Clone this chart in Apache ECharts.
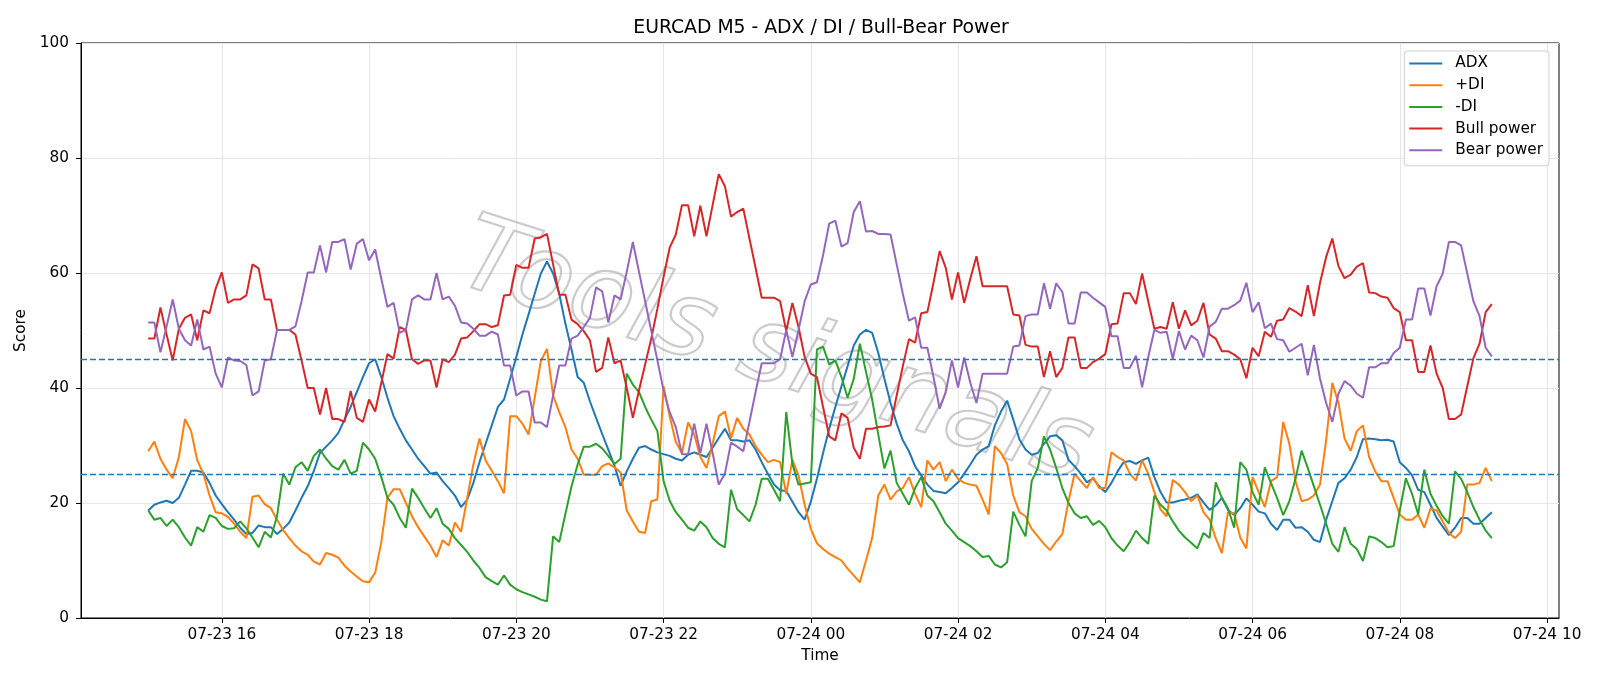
<!DOCTYPE html>
<html>
<head>
<meta charset="utf-8">
<script src="https://cdn.jsdelivr.net/npm/echarts@6/dist/echarts.min.js"></script>
<style>
  html, body { margin: 0; padding: 0; background: #fff; }
  #chart { width: 1600px; height: 686px; }
</style>
</head>
<body>
<div id="chart"></div>
<script>
// 5-minute bars, first bar at 07-23 15:00 (hours counted from 07-23 00:00)
var startHour = 15;
var stepHour = 5 / 60;

var adx = [18.7,19.7,20.1,20.4,20.0,20.9,23.2,25.6,25.6,25.3,23.5,21.3,19.8,18.4,17.1,15.7,14.6,14.8,16.1,15.8,15.8,14.6,15.5,16.6,18.7,20.9,22.9,25.6,28.7,29.8,30.9,32.2,34.5,36.7,39.3,41.9,44.3,
  45.0,41.9,38.3,35.1,32.9,30.9,29.3,27.7,26.4,25.1,25.3,23.8,22.6,21.3,19.3,20.6,23.5,27.1,30.3,33.5,36.7,38.0,41.6,45.4,49.3,52.8,56.4,59.9,62.0,59.9,56.4,51.2,46.7,41.9,
  40.9,37.7,34.8,32.0,29.3,26.5,23.0,25.5,27.7,29.6,29.9,29.3,28.8,28.5,28.2,27.7,27.4,28.4,28.8,28.4,28.0,29.6,31.3,32.9,30.9,30.9,30.7,30.9,29.3,27.1,25.1,23.2,22.2,22.1,20.2,18.4,17.1,20.2,
  24.2,28.7,32.9,36.7,40.3,43.8,47.4,49.3,50.1,49.6,46.1,41.6,37.4,33.8,30.9,29.0,26.4,24.8,23.2,22.1,21.9,21.7,22.6,23.6,25.1,26.7,28.4,29.3,29.9,33.5,35.9,37.8,34.5,31.1,29.3,
  28.4,28.7,30.3,31.6,31.8,30.9,27.5,26.4,25.1,23.6,24.3,22.9,21.9,23.5,25.5,27.1,27.3,26.8,27.4,27.9,24.5,21.9,20.1,20.1,20.4,20.6,20.9,21.5,20.1,18.8,19.6,20.9,18.8,17.9,19.1,20.8,
  19.7,18.5,18.2,16.4,15.3,17.1,17.1,15.7,15.8,15.0,13.6,13.2,17.1,20.3,23.5,24.3,25.8,28.0,31.1,31.2,31.1,30.9,31.0,30.7,27.1,26.1,24.8,22.3,21.9,19.7,17.4,15.9,14.4,15.7,17.4,17.4,16.4,16.4,17.4,18.4];

var plusDi = [29.0,30.7,27.7,25.8,24.3,28.0,34.6,32.5,27.4,25.1,21.3,18.4,18.2,17.6,16.4,15.0,13.9,21.1,21.3,19.8,19.1,17.1,15.3,13.9,12.6,11.6,11.0,9.8,9.3,11.3,11.0,10.5,9.1,8.1,7.2,6.4,6.2,
  7.9,13.2,20.9,22.4,22.4,20.0,17.7,15.8,14.2,12.6,10.6,13.5,12.6,16.6,15.0,20.9,26.7,31.2,27.4,25.6,23.8,21.7,35.1,35.1,33.8,31.9,38.3,44.7,46.8,38.7,35.8,33.2,29.3,27.7,
  24.9,24.9,24.9,26.4,26.9,26.2,25.3,18.7,16.8,15.0,14.8,20.3,20.6,40.3,35.1,30.6,28.7,34.0,31.9,28.0,26.1,30.3,35.1,35.9,31.3,34.8,32.9,31.9,29.9,28.4,27.1,27.5,27.1,21.6,27.5,24.8,19.7,15.5,
  13.0,12.0,11.2,10.6,10.0,8.6,7.4,6.2,10.0,13.9,21.3,23.2,20.6,22.0,22.6,24.5,21.6,19.3,27.4,25.8,27.1,23.8,25.8,24.2,23.5,23.2,23.0,20.6,18.0,29.9,28.7,26.8,21.3,18.4,17.7,
  15.5,14.2,12.9,11.8,13.3,14.6,20.3,25.1,23.8,22.6,24.5,22.6,22.6,28.8,28.0,27.4,25.1,23.9,27.4,25.1,21.9,18.9,17.7,24.0,23.2,21.9,20.3,21.3,18.4,17.1,13.9,11.3,18.4,18.2,14.0,12.1,
  24.5,21.9,19.3,23.8,24.5,34.1,30.3,23.8,20.3,20.6,21.3,23.2,30.9,40.9,37.4,31.2,29.1,32.5,33.5,28.0,25.5,23.8,23.8,20.9,18.0,17.1,17.1,18.0,15.7,19.0,18.7,16.8,14.8,13.9,15.0,23.2,23.2,23.5,26.1,23.8];

var minusDi = [18.7,17.1,17.4,16.0,17.1,15.8,14.0,12.6,15.8,15.0,17.9,17.4,16.0,15.5,15.6,16.8,15.6,14.0,12.3,15.0,14.0,17.7,25.1,23.2,26.2,27.1,25.6,28.2,29.3,27.7,26.4,25.8,27.5,25.1,25.6,30.5,29.3,
  27.7,24.5,20.9,19.7,17.4,15.7,22.5,20.9,19.1,17.4,19.1,16.4,15.5,13.9,12.7,11.5,10.0,8.7,7.1,6.4,5.8,7.4,5.8,5.0,4.5,4.1,3.7,3.2,2.9,14.2,13.2,18.1,22.9,26.7,
  29.8,29.8,30.3,29.5,28.2,26.8,27.7,42.5,40.6,39.3,36.7,34.5,32.5,23.8,20.4,18.4,17.1,15.7,15.2,16.8,15.8,13.9,12.9,12.3,22.3,18.9,17.9,16.8,19.7,24.2,24.2,22.3,20.3,35.8,26.8,23.2,23.4,23.6,
  46.7,47.2,44.1,44.8,41.9,38.3,41.6,47.7,42.8,38.0,31.9,26.0,29.1,23.5,21.6,19.7,22.6,24.5,21.3,20.3,18.4,16.4,15.2,13.9,13.2,12.5,11.6,10.6,10.8,9.3,8.8,9.7,18.5,16.2,14.2,
  23.8,26.1,31.6,29.3,26.1,22.6,20.0,18.2,17.4,17.7,16.2,16.9,15.8,13.9,12.6,11.6,13.2,15.2,13.9,12.9,21.3,19.7,18.7,16.8,15.2,14.0,13.1,12.1,14.8,13.9,23.6,20.9,19.1,15.7,27.1,25.8,
  21.9,19.7,26.2,23.5,20.9,17.9,20.3,24.2,29.1,26.1,22.9,19.7,16.4,12.9,11.5,15.8,12.9,12.0,9.9,14.2,13.9,13.2,12.3,12.5,18.7,24.3,21.6,18.0,25.8,21.6,19.5,17.7,16.4,25.5,24.2,21.9,19.3,17.1,15.2,13.9];

var bullPower = [48.6,48.6,54.0,49.3,44.8,50.3,52.2,52.8,48.3,53.5,53.0,57.3,60.1,54.8,55.4,55.4,56.1,61.5,60.8,55.4,55.4,50.1,50.1,50.1,49.3,44.8,40.0,40.0,35.4,40.0,34.6,34.6,34.1,39.5,34.8,34.1,38.0,
  35.9,40.9,45.9,45.1,50.6,50.1,45.0,44.2,44.8,44.8,40.1,45.0,44.5,45.8,48.6,48.8,49.9,51.1,51.1,50.6,50.9,56.1,56.2,61.4,60.9,60.9,66.0,66.2,66.8,61.5,56.2,56.2,51.9,51.1,
  49.9,48.3,42.8,43.5,48.8,44.3,44.8,40.0,34.8,39.6,44.1,48.6,53.8,59.3,64.4,66.7,71.8,71.8,66.4,71.7,66.4,71.8,77.2,75.1,69.8,70.6,71.2,66.0,60.9,55.7,55.7,55.7,55.1,49.9,54.8,50.6,45.4,42.5,
  41.9,36.7,31.6,30.9,35.6,34.8,29.6,27.7,32.9,32.9,33.2,33.3,33.5,38.7,43.8,48.5,47.9,53.0,53.2,58.3,63.8,60.9,55.4,60.1,54.8,59.0,62.9,57.7,57.7,57.7,57.7,57.7,52.8,52.6,47.5,
  47.2,47.2,41.9,46.4,41.9,43.5,48.8,48.8,43.5,43.5,44.5,45.1,45.9,51.1,51.2,56.5,56.5,54.6,59.9,55.1,50.3,50.6,50.3,54.9,50.3,53.5,50.9,51.7,54.8,49.3,48.6,46.4,46.4,45.8,45.0,41.7,
  47.0,45.5,49.8,48.9,51.7,51.9,53.9,53.3,52.5,57.9,52.5,58.3,62.8,66.0,61.2,59.1,59.7,61.1,61.7,56.6,56.5,55.9,55.7,53.9,53.2,48.3,48.3,42.8,42.8,47.4,42.5,40.0,34.6,34.6,35.4,40.3,45.2,47.7,53.2,54.6];

var bearPower = [51.4,51.4,46.2,50.7,55.4,50.3,48.3,47.4,51.9,46.7,47.2,42.5,40.1,45.3,44.8,44.7,44.0,38.7,39.4,44.8,45.0,50.1,50.1,50.1,50.7,55.1,60.1,60.1,64.8,60.1,65.4,65.4,65.9,60.6,65.1,65.9,62.2,
  64.1,59.0,54.1,54.8,49.6,50.1,55.4,56.1,55.4,55.4,60.0,55.4,55.9,54.3,51.4,51.2,50.3,49.1,49.1,49.8,49.3,43.9,43.9,38.7,39.4,39.4,34.0,34.0,33.2,38.7,43.9,43.9,48.6,49.1,
  50.6,52.2,57.5,56.8,51.4,56.1,55.4,60.2,65.4,60.2,55.1,49.9,44.8,39.6,35.8,33.2,28.5,28.5,33.8,28.7,33.8,28.7,23.2,25.1,30.5,29.8,29.0,34.1,39.3,44.3,44.3,44.3,45.0,50.1,45.4,50.1,55.1,58.0,
  58.4,63.1,68.6,69.1,64.6,65.2,70.6,72.5,67.2,67.3,66.8,66.8,66.7,61.5,56.4,51.7,52.3,47.0,47.0,41.9,36.4,39.3,44.8,40.1,45.3,40.9,37.4,42.5,42.5,42.5,42.5,42.5,47.2,47.4,52.5,
  52.8,52.8,58.2,53.8,58.2,56.7,51.2,51.2,56.6,56.6,55.7,54.9,54.1,49.0,49.0,43.5,43.5,45.6,40.1,45.4,50.1,49.6,49.8,45.1,49.9,46.7,49.1,48.3,45.3,50.7,51.5,53.8,53.8,54.4,55.2,58.3,
  53.2,54.9,50.4,51.2,48.5,48.3,46.3,47.0,47.7,42.2,47.5,41.6,37.4,34.1,39.0,41.2,40.4,39.0,38.3,43.6,43.6,44.3,44.3,46.1,47.0,51.9,51.9,57.3,57.3,52.6,57.7,59.9,65.4,65.4,64.8,59.9,55.1,52.5,47.0,45.5];

var thresholds = [25, 45];
var tickHours = [16, 18, 20, 22, 24, 26, 28, 30, 32, 34];

function pts(values) {
  return values.map(function (v, i) { return [startHour + i * stepHour, v]; });
}

function tickLabel(h) {
  var day = h < 24 ? '07-23' : '07-24';
  var hh = h % 24;
  return day + ' ' + (hh < 10 ? '0' + hh : hh);
}

var myChart = echarts.init(document.getElementById('chart'));
var font = 'DejaVu Sans';
var fs = 15.3;

function lineSeries(name, values, color) {
  return {
    name: name,
    type: 'line',
    data: pts(values),
    showSymbol: false,
    symbol: 'none',
    lineStyle: { color: color, width: 2 },
    itemStyle: { color: color },
    z: 3
  };
}

var series = [
  lineSeries('ADX', adx, '#1f77b4'),
  lineSeries('+DI', plusDi, '#ff7f0e'),
  lineSeries('-DI', minusDi, '#2ca02c'),
  lineSeries('Bull power', bullPower, '#d62728'),
  lineSeries('Bear power', bearPower, '#9467bd')
];
series[0].markLine = {
  silent: true,
  symbol: 'none',
  label: { show: false },
  lineStyle: { color: '#1f77b4', type: [6, 3], width: 1.4 },
  data: thresholds.map(function (t) { return { yAxis: t }; })
};

var option = {
  animation: false,
  backgroundColor: '#fff',
  textStyle: { fontFamily: font },
  title: {
    text: 'EURCAD M5 - ADX / DI / Bull-Bear Power',
    left: 816,
    textAlign: 'center',
    top: 14,
    textStyle: { fontFamily: font, fontSize: 18.8, fontWeight: 'normal', color: '#000' }
  },
  graphic: [{
    type: 'text',
    left: 445,
    top: 205,
    rotation: -0.31,
    z: 1,
    style: {
      text: 'Tools signals',
      font: 'italic 104px "DejaVu Sans"',
      fill: 'rgba(0,0,0,0)',
      stroke: 'rgba(160,160,160,0.55)',
      lineWidth: 2.2
    }
  }],
  legend: {
    orient: 'vertical',
    right: 51,
    top: 51,
    icon: 'rect',
    itemWidth: 33,
    itemHeight: 2,
    itemGap: 6.7,
    padding: [5, 6, 8, 5],
    borderColor: '#d0d0d0',
    borderWidth: 1,
    borderRadius: 3,
    backgroundColor: 'rgba(255,255,255,0.8)',
    textStyle: { fontFamily: font, fontSize: fs, color: '#000', padding: [0, 0, 0, 8] },
    data: ['ADX', '+DI', '-DI', 'Bull power', 'Bear power']
  },
  grid: {
    left: 81,
    right: 41,
    top: 43,
    bottom: 68,
    show: true,
    borderColor: '#000',
    borderWidth: 1
  },
  xAxis: {
    type: 'value',
    min: 14.0875,
    max: 34.1625,
    name: 'Time',
    nameLocation: 'middle',
    nameGap: 31,
    nameTextStyle: { fontFamily: font, fontSize: fs, color: '#000' },
    axisLine: { show: true, onZero: false, lineStyle: { color: '#000' } },
    axisTick: { show: true, length: 5, customValues: tickHours, lineStyle: { color: '#000' } },
    axisLabel: {
      customValues: tickHours,
      margin: 10,
      fontFamily: font,
      fontSize: fs,
      color: '#000',
      formatter: function (v) { return tickLabel(v); }
    },
    splitLine: { show: true, lineStyle: { color: '#e6e6e6', width: 1 } }
  },
  yAxis: {
    type: 'value',
    min: 0,
    max: 100,
    interval: 20,
    name: 'Score',
    nameLocation: 'middle',
    nameGap: 48,
    nameTextStyle: { fontFamily: font, fontSize: fs, color: '#000' },
    axisLine: { show: true, lineStyle: { color: '#000' } },
    axisTick: { show: true, length: 5, lineStyle: { color: '#000' } },
    axisLabel: { margin: 12, fontFamily: font, fontSize: fs, color: '#000' },
    splitLine: { show: true, lineStyle: { color: '#e6e6e6', width: 1 } }
  },
  series: series
};
myChart.setOption(option);
</script>
</body>
</html>
